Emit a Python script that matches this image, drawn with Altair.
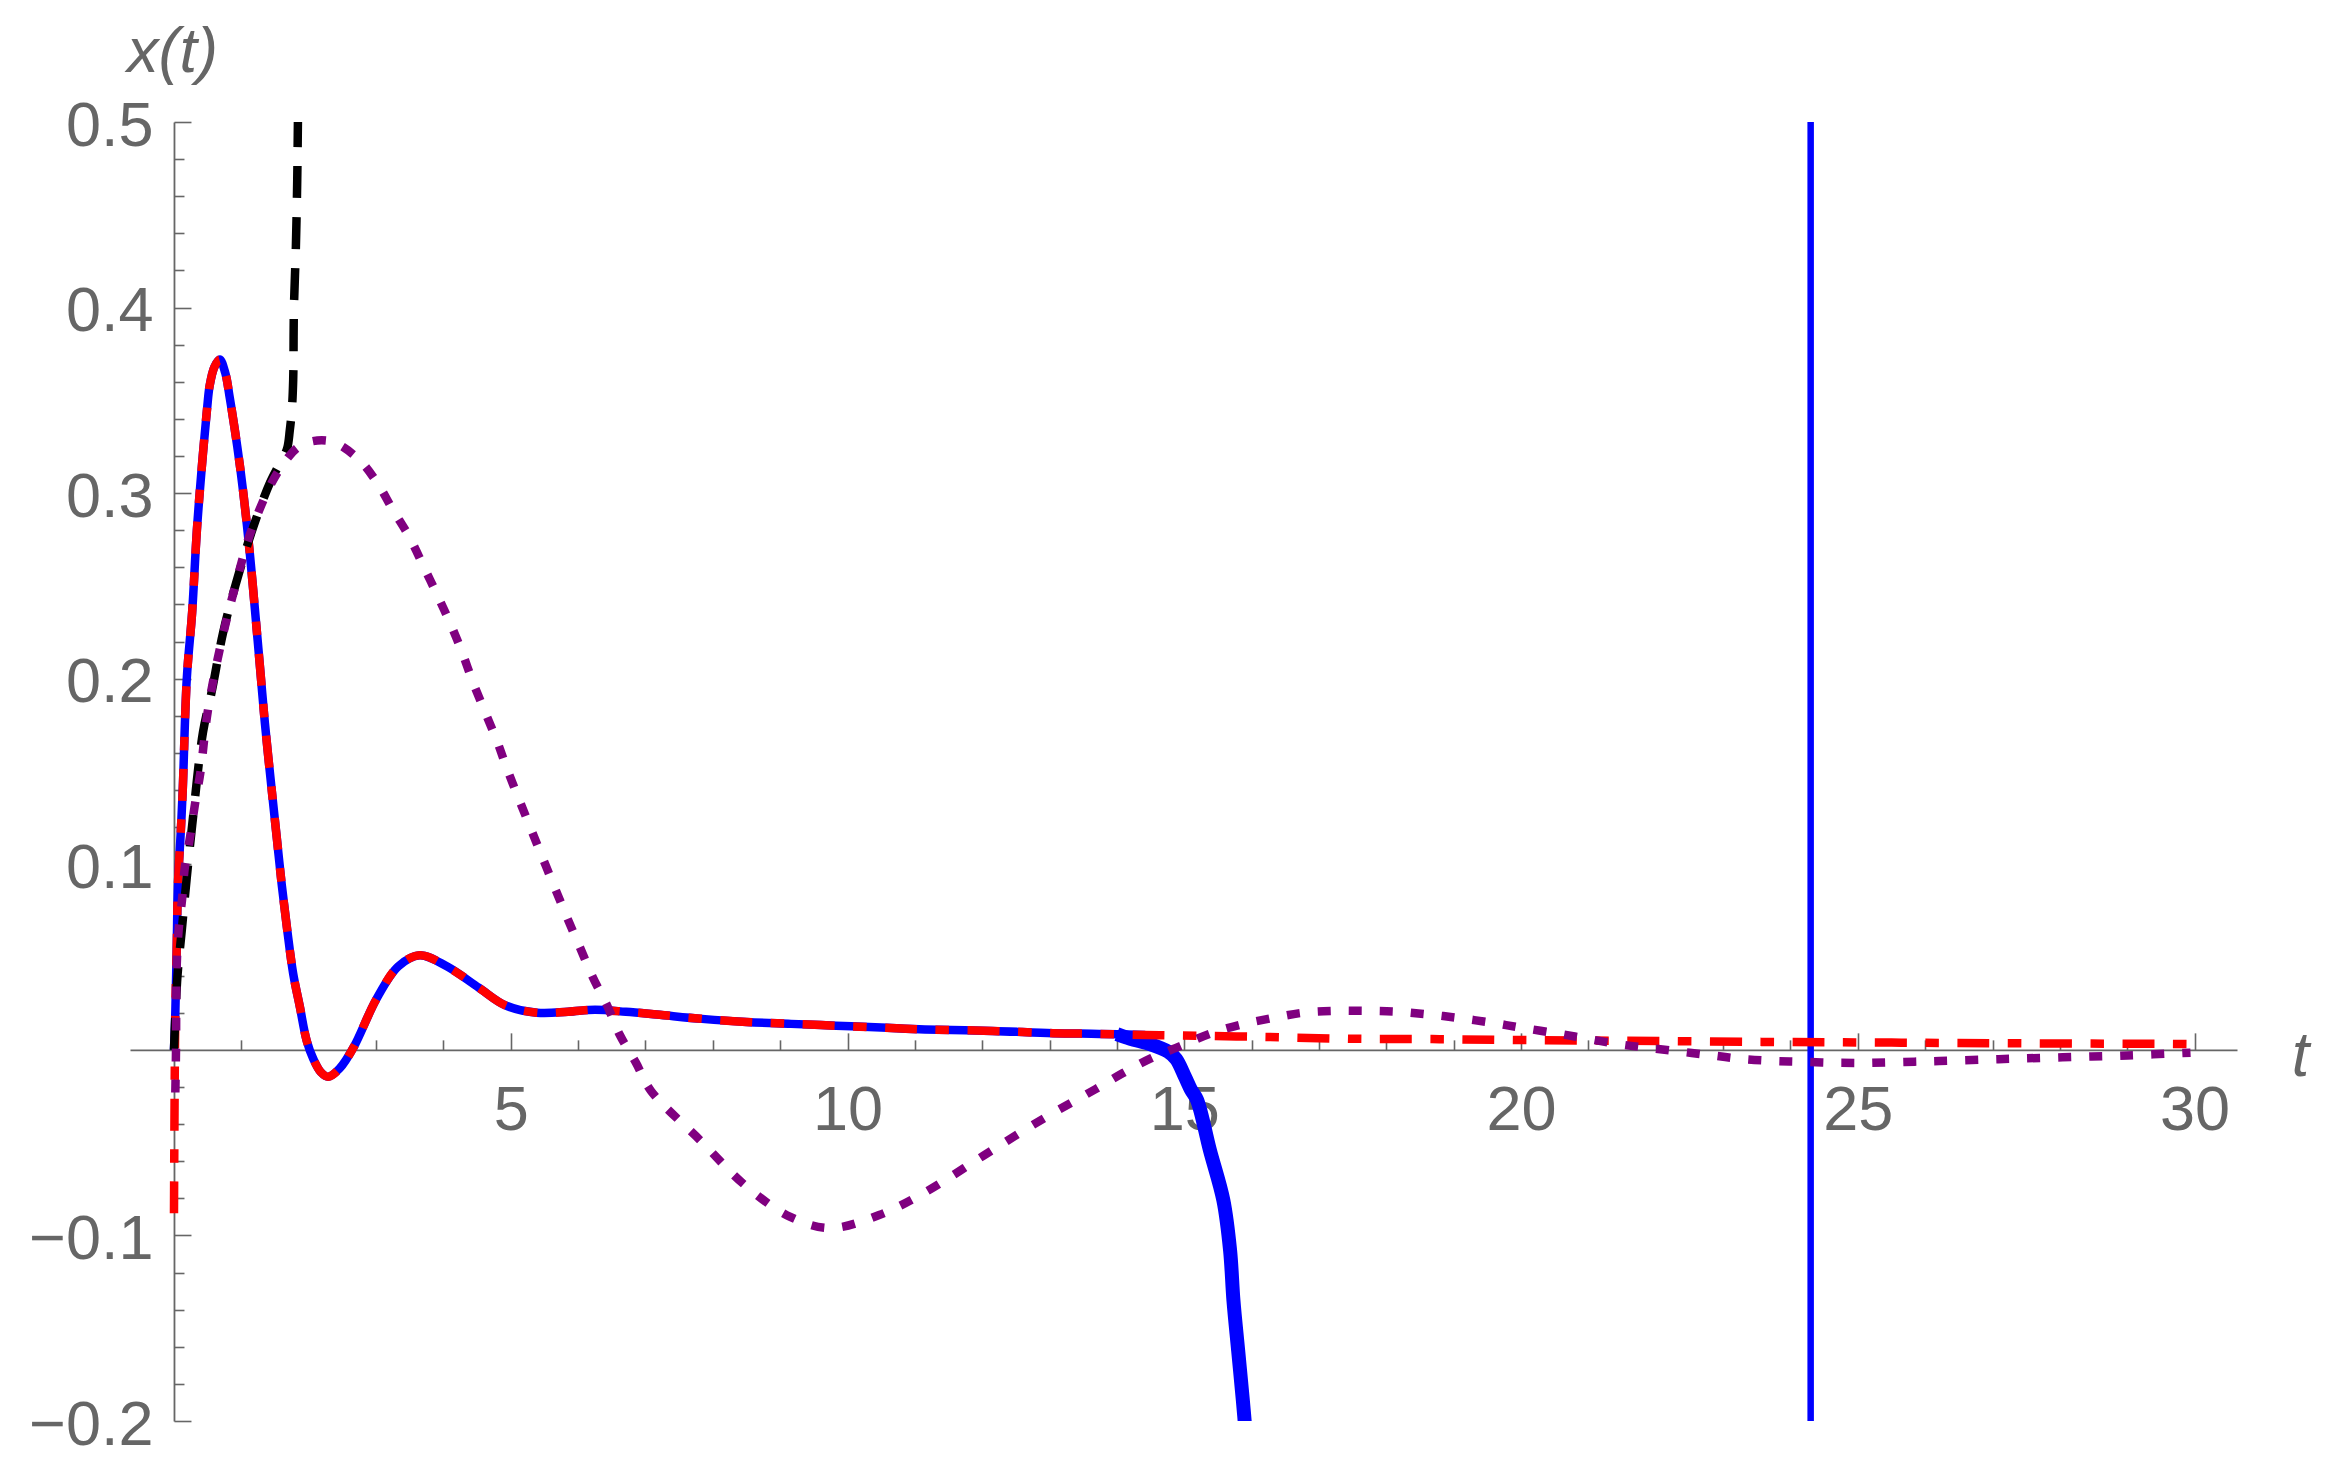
import altair as alt
import pandas as pd

# ---------------- data ----------------
blue_t = [0.0, 0.02, 0.04, 0.06, 0.10, 0.13, 0.19, 0.27, 0.34, 0.42, 0.49, 0.53, 0.60, 0.68,
          0.76, 0.83, 0.94, 1.03, 1.13, 1.20, 1.28, 1.35, 1.46, 1.53, 1.60, 1.68, 1.77, 1.87,
          1.97, 2.07, 2.18, 2.29, 2.46, 2.67, 3.00, 3.33, 3.65, 4.05, 4.53, 4.92, 5.39, 5.85,
          6.25, 6.71, 7.17, 7.84, 8.50, 9.16, 9.83, 10.50, 11.15, 12.15, 13.05, 13.74, 14.42]
blue_x = [0.0, 0.020, 0.054, 0.090, 0.117, 0.140, 0.200, 0.236, 0.280, 0.317, 0.345, 0.358,
          0.368, 0.372, 0.365, 0.351, 0.325, 0.300, 0.266, 0.238, 0.205, 0.176, 0.137, 0.113,
          0.089, 0.065, 0.041, 0.023, 0.005, -0.005, -0.012, -0.0145, -0.010, 0.0016, 0.027,
          0.045, 0.051, 0.045, 0.0334, 0.024, 0.020, 0.0205, 0.0216, 0.0205, 0.019, 0.0167,
          0.015, 0.014, 0.013, 0.012, 0.011, 0.0102, 0.009, 0.0086, 0.008]

blue_tail_t = [14.0, 14.2, 14.5, 14.76, 14.88, 15.01, 15.10, 15.19, 15.38, 15.58, 15.68,
               15.73, 15.80, 15.87, 15.92]
blue_tail_x = [0.0085, 0.006, 0.003, -0.001, -0.005, -0.0145, -0.0215, -0.027, -0.054,
               -0.081, -0.108, -0.135, -0.162, -0.189, -0.21]

blue_vline_t = [24.3]

red_t = [0.0] + blue_t[1:] + [14.97, 16.19, 17.43, 18.68, 20.0, 21.5, 23.57, 25.5, 27.5,
                              29.67, 30.0]
red_x = [-0.088] + blue_x[1:] + [0.0077, 0.007, 0.006, 0.0058, 0.0053, 0.0049, 0.0043,
                                 0.0039, 0.0035, 0.0032, 0.0031]

black_t = [0.0, 0.05, 0.12, 0.19, 0.27, 0.43, 0.56, 0.73, 0.91, 1.17, 1.43, 1.60, 1.68,
           1.72, 1.75, 1.77, 1.78, 1.81, 1.83, 1.84, 1.85]
black_x = [0.0, 0.039, 0.066, 0.093, 0.121, 0.171, 0.193, 0.225, 0.250, 0.281, 0.306,
           0.318, 0.324, 0.334, 0.345, 0.361, 0.398, 0.433, 0.469, 0.500, 0.530]

purple_t = [0.02, 0.03, 0.04, 0.07, 0.12, 0.16, 0.24, 0.31, 0.39, 0.50, 0.68, 0.91, 1.17,
            1.57, 1.90, 2.32, 2.72, 3.01, 3.25, 3.50, 3.70, 3.91, 4.10, 4.28, 4.44, 4.62,
            4.80, 4.96, 5.40, 5.84, 6.03, 6.22, 6.43, 6.62, 6.86, 7.08, 7.82, 8.48, 9.15,
            9.74, 10.47, 11.14, 12.02, 12.91, 13.69, 14.09, 14.51, 14.94, 15.38, 15.83,
            16.29, 16.76, 17.23, 17.70, 18.18, 18.65, 19.11, 19.59, 19.99, 20.51, 20.98,
            21.46, 21.92, 22.38, 22.84, 23.28, 23.77, 24.24, 24.74, 25.19, 25.69, 26.21,
            27.09, 28.04, 29.00, 29.94]
purple_x = [-0.023, 0.0, 0.045, 0.065, 0.081, 0.098, 0.115, 0.132, 0.149, 0.182, 0.216,
            0.250, 0.282, 0.313, 0.326, 0.328, 0.319, 0.306, 0.291, 0.276, 0.261, 0.245,
            0.230, 0.214, 0.198, 0.182, 0.166, 0.150, 0.110, 0.071, 0.055, 0.039, 0.024,
            0.008, -0.007, -0.022, -0.049, -0.073, -0.090, -0.096, -0.089, -0.077, -0.057,
            -0.037, -0.021, -0.0125, -0.0045, 0.002, 0.0087, 0.0135, 0.017, 0.020, 0.021,
            0.021, 0.0205, 0.019, 0.017, 0.0145, 0.012, 0.009, 0.006, 0.003, 0.001, -0.001,
            -0.003, -0.0049, -0.006, -0.0065, -0.007, -0.007, -0.0065, -0.006, -0.005,
            -0.004, -0.003, -0.0015]

x_major = [5, 10, 15, 20, 25, 30]
x_minor = [1, 2, 3, 4, 6, 7, 8, 9, 11, 12, 13, 14, 16, 17, 18, 19, 21, 22, 23, 24,
           26, 27, 28, 29]
y_labels = [-0.2, -0.1, 0.1, 0.2, 0.3, 0.4, 0.5]
y_minor = [-0.18, -0.16, -0.14, -0.12, -0.08, -0.06, -0.04, -0.02, 0.02, 0.04, 0.06, 0.08,
           0.12, 0.14, 0.16, 0.18, 0.22, 0.24, 0.26, 0.28, 0.32, 0.34, 0.36, 0.38,
           0.42, 0.44, 0.46, 0.48]

# ---------------- layout ----------------
W, H = 2107, 1299
T_MIN, T_MAX = -0.653, 30.63
V_MIN, V_MAX = -0.2, 0.5
x0_px = W * (0 - T_MIN) / (T_MAX - T_MIN)
y0_px = H * (V_MAX - 0) / (V_MAX - V_MIN)

GRAY = "#666666"
FONT = "Liberation Sans"
FS = 63

xscale = alt.Scale(domain=[T_MIN, T_MAX], nice=False, zero=False)
yscale = alt.Scale(domain=[V_MIN, V_MAX], nice=False, zero=False)


def frame(t, x):
    return pd.DataFrame({"t": t, "x": x, "i": list(range(len(t)))})


x_label_axis = alt.Axis(
    orient="bottom", offset=-(H - y0_px), values=x_major, format="d",
    labelFont=FONT, labelFontSize=FS, labelColor=GRAY, labelPadding=30,
    labelFlush=False, labelOverlap=False, ticks=False, tickSize=0,
    domain=True, domainColor=GRAY, domainWidth=1.8, grid=False,
    title="t", titleFont=FONT, titleFontSize=FS, titleFontStyle="italic",
    titleFontWeight="normal", titleColor=GRAY, titleX=2170, titleY=7,
    titleAlign="center", titleBaseline="middle", titleAngle=0)
x_major_axis = alt.Axis(
    orient="top", offset=-y0_px, values=x_major, labels=False, ticks=True,
    tickSize=17, tickWidth=1.6, tickColor=GRAY, domain=False, grid=False, title=None)
x_minor_axis = alt.Axis(
    orient="top", offset=-y0_px, values=x_minor, labels=False, ticks=True,
    tickSize=10, tickWidth=1.6, tickColor=GRAY, domain=False, grid=False, title=None)

y_label_axis = alt.Axis(
    orient="left", offset=-x0_px, values=y_labels, format=".1f",
    labelFont=FONT, labelFontSize=FS, labelColor=GRAY, labelPadding=21, labelOffset=4,
    labelFlush=False, labelOverlap=False, ticks=False, tickSize=0,
    domain=True, domainColor=GRAY, domainWidth=1.8, grid=False,
    title="x(t)", titleFont=FONT, titleFontSize=FS, titleFontStyle="italic",
    titleFontWeight="normal", titleColor=GRAY, titleX=-2, titleY=-70,
    titleAlign="center", titleBaseline="middle", titleAngle=0)
y_major_axis = alt.Axis(
    orient="right", offset=-(W - x0_px), values=y_labels, labels=False, ticks=True,
    tickSize=17, tickWidth=1.6, tickColor=GRAY, domain=False, grid=False, title=None)
y_minor_axis = alt.Axis(
    orient="right", offset=-(W - x0_px), values=y_minor, labels=False, ticks=True,
    tickSize=10, tickWidth=1.6, tickColor=GRAY, domain=False, grid=False, title=None)


def line(df, xaxis, yaxis, **mark):
    return alt.Chart(df).mark_line(clip=True, **mark).encode(
        x=alt.X("t:Q", scale=xscale, axis=xaxis),
        y=alt.Y("x:Q", scale=yscale, axis=yaxis),
        order=alt.Order("i:Q"),
    )


vline = alt.Chart(pd.DataFrame({"t": blue_vline_t})).mark_rule(
    color="#0000ff", strokeWidth=6.5, clip=True
).encode(x=alt.X("t:Q", scale=xscale, axis=None))

blue = line(frame(blue_t, blue_x), x_label_axis, y_label_axis,
            color="#0000ff", strokeWidth=8.5, interpolate="catmull-rom")
blue_tail = line(frame(blue_tail_t, blue_tail_x), x_major_axis, y_major_axis,
                 color="#0000ff", strokeWidth=14, interpolate="catmull-rom")
red = line(frame(red_t, red_x), x_minor_axis, y_minor_axis,
           color="#ff0000", strokeWidth=8.5, strokeDash=[32, 18.5, 13.5, 18.5],
           interpolate="catmull-rom")
black = line(frame(black_t, black_x), None, None,
             color="#000000", strokeWidth=8.5, strokeDash=[32, 19],
             interpolate="catmull-rom")
purple = line(frame(purple_t, purple_x), None, None,
              color="#800080", strokeWidth=8.5, strokeDash=[13, 18],
              interpolate="catmull-rom")

chart = alt.layer(vline, blue, blue_tail, red, black, purple).resolve_axis(
    x="independent", y="independent"
).properties(
    width=W, height=H,
    autosize=alt.AutoSizeParams(type="none"),
    padding={"left": 122, "top": 114, "right": 93, "bottom": 40},
).configure_view(stroke=None)

chart.save("out.html", embed_options={"renderer": "svg", "actions": False})
